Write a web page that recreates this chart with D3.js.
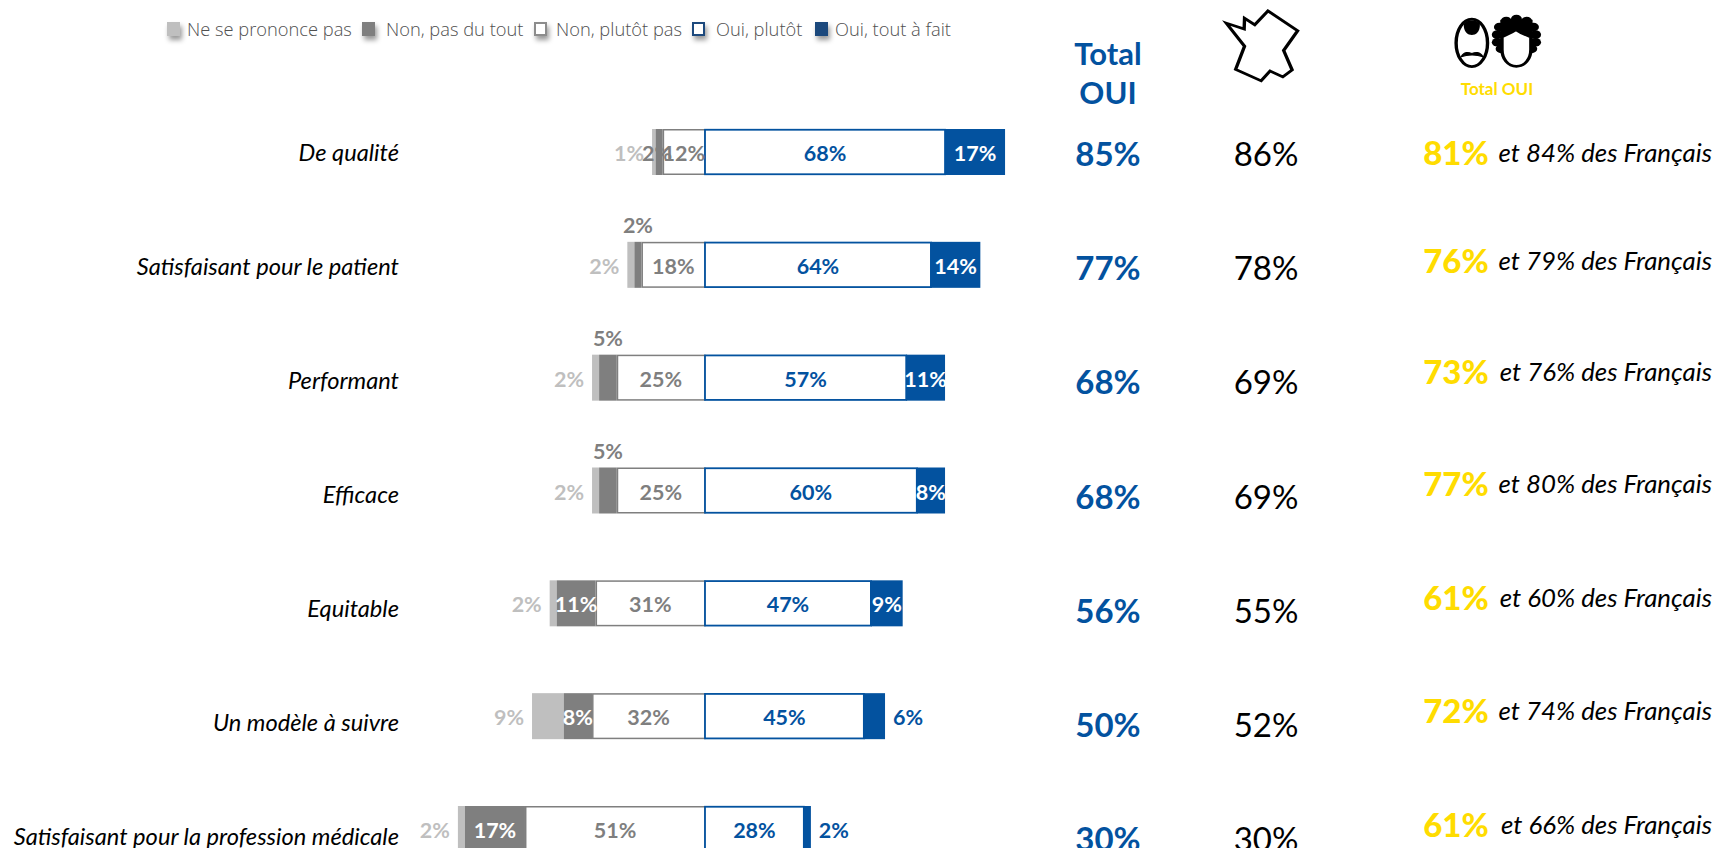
<!DOCTYPE html>
<html><head><meta charset="utf-8">
<style>html,body{margin:0;padding:0;background:#fff;overflow:hidden}svg{display:block}text{font-family:Lato,Carlito,sans-serif}</style>
<script src="https://cdn.jsdelivr.net/npm/d3@7/dist/d3.min.js"></script>
</head><body><svg id="c" width="1716" height="848"></svg>
<script>
const categories=["De qualité","Satisfaisant pour le patient","Performant","Efficace","Equitable","Un modèle à suivre","Satisfaisant pour la profession médicale"];
const seriesNames=["Ne se prononce pas","Non, pas du tout","Non, plutôt pas","Oui, plutôt","Oui, tout à fait"];
const nsp=[1,2,2,2,2,9,2];
const nonDuTout=[2,2,5,5,11,8,17];
const nonPlutot=[12,18,25,25,31,32,51];
const ouiPlutot=[68,64,57,60,47,45,28];
const ouiTout=[17,14,11,8,9,6,2];
const totalOui=[85,77,68,68,56,50,30];
const franceOui=[86,78,69,69,55,52,30];
const medecinsOui=[81,76,73,77,61,72,61];
const francaisOui=[84,79,76,80,60,74,66];

const BLUE="#03529f",DG="#7f7f7f",LG="#bfbfbf",YEL="#ffdc00";
const svg=d3.select("#c");
const x=d3.scaleLinear().domain([-100,100]).range([705-353,705+353]);
const rows=d3.range(categories.length);
const yBar=d3.scalePoint().domain(rows).range([129,806]);
const yCat=d3.scalePoint().domain(rows).range([152,836]);
const yTot=d3.scalePoint().domain(rows).range([153,838]);
const yYel=d3.scaleOrdinal().domain(rows).range([152,260,371,483,597,710,824]);
const BH=46;
const pct=v=>v+"%";
function t(px,py,s,o){const e=svg.append("text").attr("x",px).attr("y",py).attr("dominant-baseline","central").text(s);
  e.attr("text-anchor",o.anchor||"middle").attr("font-size",o.size).attr("fill",o.fill||"#000")
   .attr("font-weight",o.weight||400).attr("font-style",o.style||"normal");
  if(o.family)e.style("font-family",o.family);return e;}

// legend
const defs=svg.append("defs");
const f=defs.append("filter").attr("id","sh").attr("x","-60%").attr("y","-60%").attr("width","260%").attr("height","260%");
f.append("feDropShadow").attr("dx",2).attr("dy",4).attr("stdDeviation",2.5).attr("flood-color","#000").attr("flood-opacity",.4);
const legX=[167,362,534,692,815], legTx=[187,386,556,716,835];
const legFill=[LG,DG,"#fff","#fff","#1f497d"],legStroke=[LG,DG,"#8c8c8c","#1f497d","#1f497d"];
seriesNames.forEach((n,i)=>{
  svg.append("rect").attr("x",legX[i]+1).attr("y",23).attr("width",11).attr("height",12)
    .attr("fill",legFill[i]).attr("stroke",legStroke[i]).attr("stroke-width",2).attr("filter","url(#sh)");
  t(legTx[i],28,n,{anchor:"start",size:18.3,fill:"#505050",family:"'Open Sans'"}).attr("font-weight",300);
});

// bars
rows.forEach(i=>{
  const y0=yBar(i),yc=y0+BH/2;
  const a=nonPlutot[i],b=a+nonDuTout[i],c=b+nsp[i],d=ouiPlutot[i],e=d+ouiTout[i];
  svg.append("rect").attr("x",x(-c)).attr("y",y0).attr("width",x(-b)-x(-c)).attr("height",BH).attr("fill",LG);
  svg.append("rect").attr("x",x(-b)).attr("y",y0).attr("width",x(-a)-x(-b)).attr("height",BH).attr("fill",DG);
  svg.append("rect").attr("x",x(-a)+.75).attr("y",y0+.75).attr("width",x(0)-x(-a)-.75).attr("height",BH-1.5).attr("fill","#fff").attr("stroke",DG).attr("stroke-width",1.5);
  svg.append("rect").attr("x",x(0)).attr("y",y0+.75).attr("width",x(d)-x(0)).attr("height",BH-1.5).attr("fill","#fff").attr("stroke",BLUE).attr("stroke-width",1.8);
  svg.append("rect").attr("x",x(d)).attr("y",y0).attr("width",x(e)-x(d)).attr("height",BH).attr("fill",BLUE);
  const S=21.5,W=700,ly=yc+1;
  t(x(-c)-23,ly,pct(nsp[i]),{size:S,weight:W,fill:LG});
  const dv=nonDuTout[i];
  if(dv>=8) t((x(-b)+x(-a))/2,ly,pct(dv),{size:S,weight:W,fill:"#fff"});
  else if(i===0) t((x(-b)+x(-a))/2-2,ly,pct(dv),{size:S,weight:W,fill:DG});
  else t((x(-b)+x(-a))/2,y0-17,pct(dv),{size:S,weight:W,fill:DG});
  t((x(-a)+x(0))/2,ly,pct(nonPlutot[i]),{size:S,weight:W,fill:DG});
  t((x(0)+x(d))/2,ly,pct(d),{size:S,weight:W,fill:BLUE});
  if(ouiTout[i]>6) t((x(d)+x(e))/2,ly,pct(ouiTout[i]),{size:S,weight:W,fill:"#fff"});
  else t(x(e)+23,ly,pct(ouiTout[i]),{size:S,weight:W,fill:BLUE});
  t(399,yCat(i),categories[i],{anchor:"end",size:23.65,style:"italic"});
  t(1108,yTot(i),pct(totalOui[i]),{size:33,weight:700,fill:BLUE});
  t(1266,yTot(i),pct(franceOui[i]),{size:33});
  t(1456,yYel(i),pct(medecinsOui[i]),{size:33,weight:900,fill:YEL});
  t(1712,yYel(i),"et "+francaisOui[i]+"% des Français",{anchor:"end",size:25.8,style:"italic"});
});
t(1108,53,"Total",{size:31,weight:700,fill:BLUE});
t(1108,92,"OUI",{size:31,weight:700,fill:BLUE});
t(1497,88,"Total OUI",{size:17,weight:700,fill:YEL});

// icons
const ic=svg.append("g").attr("transform","translate(1050,0) scale(0.4248,0.33)");
const francePts=[[415,70],[457,88],[458,55],[482,75],[513,33],[583,93],[550,153],[570,212],[548,233],[518,215],[497,245],[437,210],[458,140]];
ic.append("polygon").attr("points",francePts.join(" ")).attr("fill","#fff").attr("stroke","#000").attr("stroke-width",8).attr("stroke-linejoin","miter");
ic.append("ellipse").attr("cx",993).attr("cy",130).attr("rx",37).attr("ry",72).attr("fill","#fff").attr("stroke","#000").attr("stroke-width",8);
ic.append("path").attr("d","M974,72 C984,58 1002,58 1012,72 C1013,98 1002,106 993,106 C984,106 973,98 974,72Z").attr("fill","#000");
ic.append("path").attr("d","M968,172 C975,155 985,158 993,162 C1001,158 1012,155 1019,172 C1005,165 982,165 968,172Z").attr("fill","#000").attr("stroke","#000").attr("stroke-width",3);
const hair=[[1098,58],[1074,64],[1122,64],[1058,82],[1138,82],[1053,105],[1143,105],[1053,128],[1143,128],[1062,148],[1134,148]];
ic.selectAll(null).data(hair).enter().append("circle").attr("cx",d=>d[0]).attr("cy",d=>d[1]).attr("r",13).attr("fill","#000");
ic.append("rect").attr("x",1060).attr("y",60).attr("width",76).attr("height",80).attr("fill","#000");
ic.append("path").attr("d","M1064,112 C1075,105 1085,100 1097,90 C1108,100 1120,106 1132,112 L1132,150 C1132,178 1118,201 1098,201 C1078,201 1064,178 1064,150Z").attr("fill","#fff").attr("stroke","#000").attr("stroke-width",8);
</script></body></html>
